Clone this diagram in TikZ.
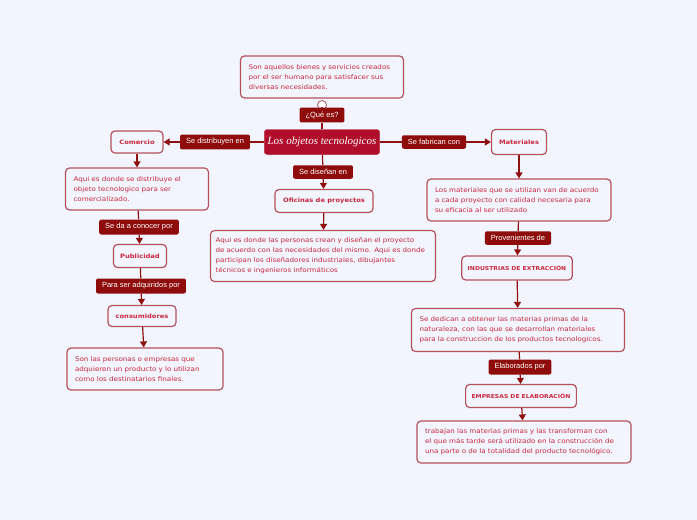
\documentclass[tikz,border=0pt]{standalone}
\usepackage{fontspec}
\setmainfont{DejaVu Sans}[FakeStretch=1.12]
\newfontfamily\labfont{Liberation Sans}
\newfontfamily\titlefont{Liberation Serif}
\usetikzlibrary{arrows.meta}
\definecolor{bgc}{HTML}{F2F5FD}
\definecolor{boxline}{HTML}{B4525C}
\definecolor{boxtext}{HTML}{C8283F}
\definecolor{labfill}{HTML}{8E0C0C}
\definecolor{mainfill}{HTML}{B00E2B}
\definecolor{conn}{HTML}{8E1010}
\tikzset{
  desc/.style={draw=boxline, line width=1.2pt, rounded corners=4pt, fill=bgc, text=boxtext,
    font=\fontsize{6.4}{10}\selectfont, align=left, inner xsep=8pt, inner ysep=6pt},
  topic/.style={draw=boxline, line width=1.2pt, rounded corners=4pt, fill=bgc, text=boxtext,
    font=\fontsize{6}{8}\selectfont\bfseries, inner xsep=6pt, inner ysep=7pt},
  caps/.style={font=\fontsize{5.4}{8}\selectfont\bfseries},
  lab/.style={fill=labfill, rounded corners=2pt, text=white, font=\labfont\fontsize{7.5}{9}\selectfont,
    inner xsep=6pt, inner ysep=4pt},
  mainnode/.style={fill=mainfill, rounded corners=3pt, text=white, font=\titlefont\itshape\fontsize{11}{12}\selectfont,
    minimum width=112pt, minimum height=25pt, draw=mainfill},
  ln/.style={draw=conn, line width=1.2pt},
  arr/.style={draw=conn, line width=1.2pt, -{Triangle[length=6pt,width=7pt]}},
}
\begin{document}
\begin{tikzpicture}[x=1pt,y=-1pt]
\useasboundingbox (0,0) rectangle (697,520);
\fill[bgc] (0,0) rectangle (697,520);

% top
\node[desc, text width=147pt, minimum height=42pt] (def) at (322,77) {Son aquellos bienes y servicios creados\\por el ser humano para satisfacer sus\\diversas necesidades.};
\node[draw=boxline, fill=white, circle, line width=0.8pt, inner sep=0pt, minimum size=9pt] (dot) at (322,105) {};
\node[lab] (que) at (322,115) {¿Qué es?};
\node[mainnode] (main) at (322,142) {Los objetos tecnologicos};

% left
\node[lab] (dist) at (215,142) {Se distribuyen en};
\node[topic, minimum width=52pt, minimum height=22pt] (com) at (137,142) {Comercio};
\node[desc, text width=127pt, minimum height=42pt] (comd) at (137,189) {Aqui es donde se distribuye el\\objeto tecnologico para ser\\comercializado.};
\node[lab] (dacon) at (139,227) {Se da a conocer por};
\node[topic, minimum width=53pt, minimum height=23pt] (pub) at (140,256) {Publicidad};
\node[lab] (adq) at (141,286) {Para ser adquiridos por};
\node[topic, minimum width=68pt, minimum height=21pt] (cons) at (142,316) {consumidores};
\node[desc, text width=140pt, minimum height=42pt] (consd) at (145,369) {Son las personas o empresas que\\adquieren  un producto y lo utilizan\\como los destinatarios finales.};

% center
\node[lab] (dis) at (323,172) {Se diseñan en};
\node[topic, minimum width=98pt, minimum height=23pt] (ofi) at (324,201) {Oficinas de proyectos};
\node[desc, text width=215pt, inner xsep=5pt, minimum height=51pt] (ofid) at (323,256) {Aqui es donde las personas crean y diseñan el proyecto\\de acuerdo con las necesidades del mismo. Aqui es donde\\participan los diseñadores industriales, dibujantes\\técnicos e ingenieros informáticos};

% right
\node[lab] (fab) at (434,142) {Se fabrican con};
\node[topic, minimum width=55pt, minimum height=25pt] (mat) at (519,142) {Materiales};
\node[desc, text width=168pt, minimum height=42pt] (matd) at (519,200) {Los materiales que se utilizan van de acuerdo\\a cada proyecto con calidad necesaria para\\su eficacia al ser utilizado};
\node[lab] (prov) at (518,238) {Provenientes de};
\node[topic, caps, minimum width=110pt, minimum height=24pt] (ind) at (517,268) {INDUSTRIAS DE EXTRACCIÓN};
\node[desc, text width=197pt, minimum height=43pt] (indd) at (518,330) {Se dedican a obtener las materias primas de la\\naturaleza, con  las que se desarrollan materiales\\para la construccion de los productos tecnologicos.};
\node[lab] (elab) at (520,367) {Elaborados por};
\node[topic, caps, minimum width=110pt, minimum height=23pt] (emp) at (521,396) {EMPRESAS DE ELABORACIÓN};
\node[desc, text width=198pt, minimum height=42pt] (empd) at (524,442) {trabajan las materias primas y las transforman con\\el que más tarde será utilizado en la construcción de\\una parte o de la totalidad del producto tecnológico.};

% connectors
\draw[ln] (main) -- (que);
\draw[ln] (que) -- (dot);
\draw[ln] (main) -- (dist);
\draw[arr] (dist) -- (com);
\draw[arr] (com) -- (comd);
\draw[ln] (comd) -- (dacon);
\draw[arr] (dacon) -- (pub);
\draw[ln] (pub) -- (adq);
\draw[arr] (adq) -- (cons);
\draw[arr] (cons) -- (consd);
\draw[ln] (main) -- (dis);
\draw[arr] (dis) -- (ofi);
\draw[arr] (ofi) -- (ofid);
\draw[ln] (main) -- (fab);
\draw[arr] (fab) -- (mat);
\draw[arr] (mat) -- (matd);
\draw[ln] (matd) -- (prov);
\draw[arr] (prov) -- (ind);
\draw[arr] (ind) -- (indd);
\draw[ln] (indd) -- (elab);
\draw[arr] (elab) -- (emp);
\draw[arr] (emp) -- (empd);
\end{tikzpicture}
\end{document}
